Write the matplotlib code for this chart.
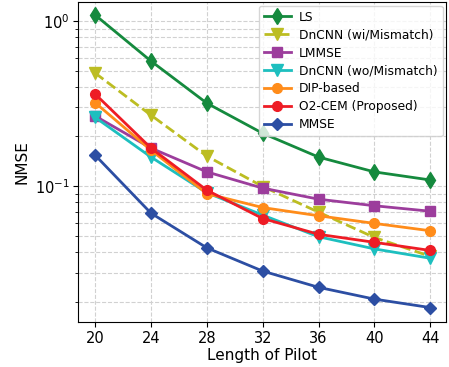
import numpy as np
import matplotlib
matplotlib.use('Agg')
import matplotlib.pyplot as plt

pilot = [20, 24, 28, 32, 36, 40, 44]

ls = [1.087, 0.572, 0.318, 0.209, 0.150, 0.122, 0.109]
dncnn_wi = [0.484, 0.269, 0.152, 0.0995, 0.0696, 0.0489, 0.0376]
lmmse = [0.266, 0.170, 0.122, 0.0973, 0.0834, 0.0761, 0.0705]
dncnn_wo = [0.261, 0.150, 0.0912, 0.0668, 0.0494, 0.0417, 0.0366]
dip = [0.320, 0.165, 0.0901, 0.0742, 0.0662, 0.0595, 0.0537]
o2cem = [0.361, 0.170, 0.0945, 0.0637, 0.0511, 0.0457, 0.0408]
mmse = [0.154, 0.0686, 0.0423, 0.0306, 0.0244, 0.0207, 0.0184]

fig = plt.figure(figsize=(4.49, 3.67), dpi=100)
ax = fig.add_axes([0.174, 0.122, 0.82, 0.872])

ax.plot(pilot, ls, '-d', color='#158a3e', lw=2, ms=8, label='LS')
ax.plot(pilot, dncnn_wi, '--v', color='#bcbd22', lw=2, ms=8, label='DnCNN (wi/Mismatch)')
ax.plot(pilot, lmmse, '-s', color='#9c3d9c', lw=2, ms=7, label='LMMSE')
ax.plot(pilot, dncnn_wo, '-v', color='#1dbfbf', lw=2, ms=8, label='DnCNN (wo/Mismatch)')
ax.plot(pilot, dip, '-o', color='#ff8c1a', lw=2, ms=7, label='DIP-based')
ax.plot(pilot, o2cem, '-o', color='#ee1c25', lw=2, ms=7, label='O2-CEM (Proposed)')
ax.plot(pilot, mmse, '-D', color='#2c4ea3', lw=2, ms=6.5, label='MMSE')

ax.set_yscale('log')
ax.set_xlim(18.78, 45.15)
ax.set_ylim(0.015, 1.30)
ax.set_xticks(pilot)
ax.tick_params(labelsize=10.5, pad=2.5)
ax.set_xlabel('Length of Pilot', fontsize=11, labelpad=2)
ax.set_ylabel('NMSE', fontsize=11, labelpad=4)
ax.grid(True, which='both', color='0.82', linestyle='--', lw=0.8)
ax.legend(loc='upper right', fontsize=8.8, handlelength=2.2, labelspacing=0.4,
          borderaxespad=0.3, handletextpad=0.7)

fig.savefig('out.png', dpi=100)
